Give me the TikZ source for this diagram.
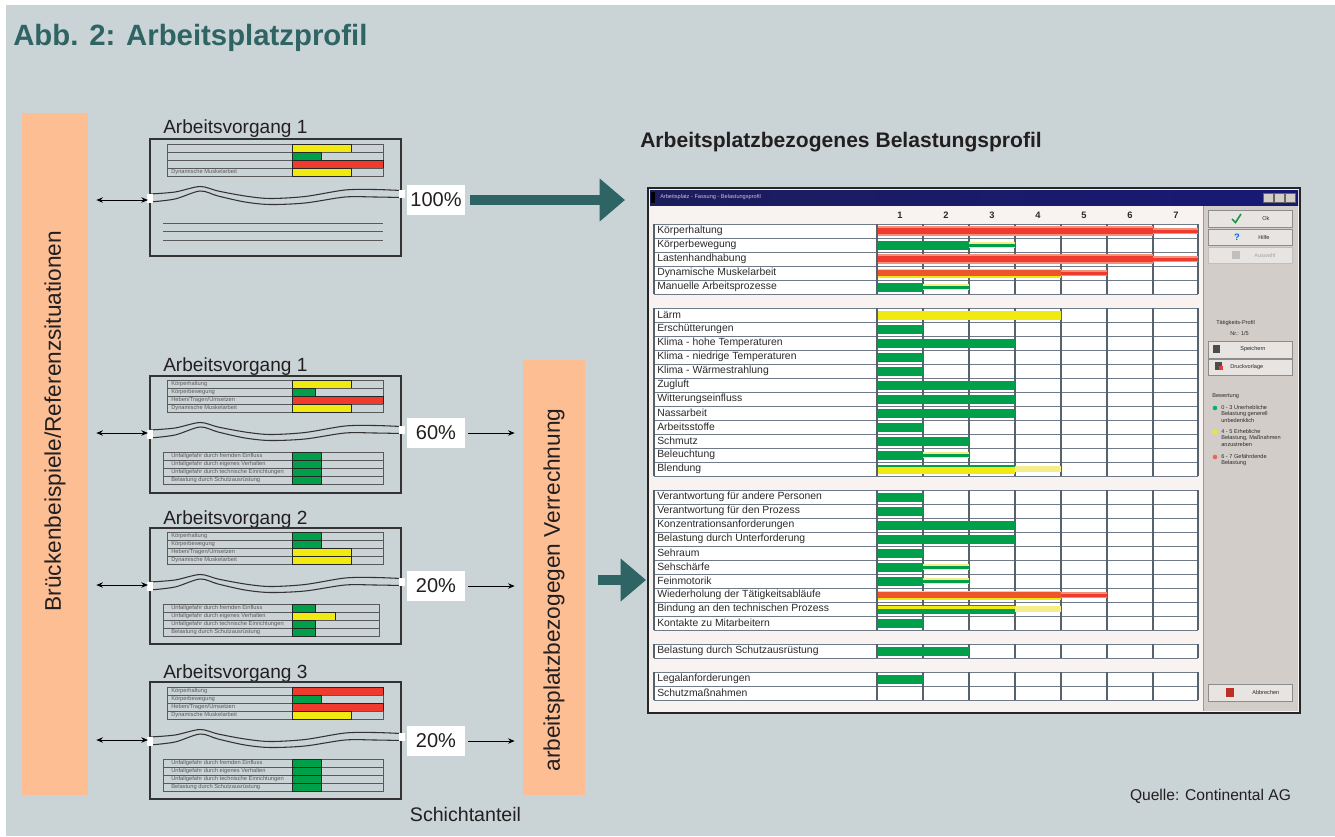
\documentclass[tikz,border=0pt]{standalone}
\usepackage{fontspec}
\setmainfont{Liberation Sans}
\usetikzlibrary{arrows.meta}
\definecolor{bg}{HTML}{CAD3D6}
\definecolor{tealA}{HTML}{2F6464}
\definecolor{obar}{HTML}{FDBE94}
\definecolor{gr}{HTML}{00A04B}
\definecolor{ye}{HTML}{F0EA10}
\definecolor{rd}{HTML}{EE3B2E}
\definecolor{lrd}{HTML}{F4907A}
\definecolor{lye}{HTML}{F3EE8A}
\definecolor{sgridc}{HTML}{6E7A88}
\definecolor{scrbg}{HTML}{F8F3F1}
\definecolor{panel}{HTML}{D3CDC9}
\definecolor{navy}{HTML}{1C1D5C}
\definecolor{txt}{HTML}{231F20}
\definecolor{stxt}{HTML}{5A5A5A}
\definecolor{gtxt}{HTML}{2A2A2A}

\tikzset{
  boxline/.style={draw=black!80, line width=0.8pt},
  tabline/.style={draw=black!65, line width=0.55pt},
  minilabel/.style={anchor=west, inner sep=0pt, text=stxt, font=\fontsize{4.3pt}{5pt}\selectfont},
  pctbox/.style={fill=white, minimum width=43.5pt, minimum height=23pt, inner sep=0pt, text=txt, font=\fontsize{15pt}{18pt}\selectfont},
  avtitle/.style={anchor=base west, inner sep=0pt, text=txt, font=\fontsize{14.3pt}{16pt}\selectfont},
  bartext/.style={rotate=90, inner sep=0pt, text=txt, font=\fontsize{17pt}{20pt}\selectfont},
  dblarrow/.style={{Stealth[length=5pt,width=4pt]}-{Stealth[length=5pt,width=4pt]}, line width=0.75pt, black},
  thinarrow/.style={-{Stealth[length=5pt,width=4pt]}, line width=0.75pt, black},
  bigarrow/.style={-{Triangle[length=19pt,width=31pt]}, line width=8pt, tealA},
  sgrid/.style={draw=sgridc, line width=0.6pt},
  svgrid/.style={draw=sgridc!80!black, line width=1.1pt},
  slabel/.style={anchor=west, inner sep=0pt, text=gtxt, font=\fontsize{7.8pt}{8pt}\selectfont},
  snum/.style={inner sep=0pt, text=gtxt, font=\bfseries\fontsize{7pt}{8pt}\selectfont},
  ptext/.style={anchor=west, inner sep=0pt, text=gtxt, font=\fontsize{4.2pt}{5pt}\selectfont},
  pbtn/.style={fill=panel!55!white, draw=black!45, line width=0.6pt},
}

% mini table row: xl, xr, ytop, label, barend, colour
\newcommand\mrow[6]{%
  \draw[tabline] (#1,#3) rectangle (#2,{#3+8});
  \draw[tabline] (292,#3) -- (292,{#3+8});
  \filldraw[#6, draw=black!85, line width=0.6pt] (292,#3) rectangle (#5,{#3+8});
  \node[minilabel] at (171,{#3+4.2}) {#4};
}
% wavy break
\newcommand\wave[1]{%
 \begin{scope}[shift={(0,#1)}]
  \fill[bg] plot[smooth] coordinates {(149,0) (175,-2) (200,-7.5) (218,-3) (245,2) (270,4.5) (305,2.5) (345,-4) (375,-4.5) (402,-3.5)}
     -- plot[smooth] coordinates {(402,3.5) (375,3) (345,3) (305,9) (270,10.5) (245,8) (218,2) (200,-3) (175,5) (149,8)} -- cycle;
  \draw[boxline] plot[smooth] coordinates {(150,0) (175,-2) (200,-7.5) (218,-3) (245,2) (270,4.5) (305,2.5) (345,-4) (375,-4.5) (401,-3.5)};
  \draw[boxline] plot[smooth] coordinates {(150,8) (175,5) (200,-3) (218,2) (245,8) (270,10.5) (305,9) (345,3) (375,3) (401,3.5)};
  \fill[white] (147,-0.5) rectangle (153,8.5);
  \fill[white] (399,-4) rectangle (405,4);
 \end{scope}}
% screenshot group grid: ytop, nrows
\newcommand\sgroup[2]{%
  \fill[white] (654,#1) rectangle (1198,{#1+14*#2});
  \foreach \k in {0,...,#2} \draw[sgrid] (654,{#1+14*\k}) -- (1198,{#1+14*\k});
  \foreach \xx in {654,877,923,969,1015,1061,1107,1153,1198} \draw[svgrid] (\xx,#1) -- (\xx,{#1+14*#2});
}
% thick bar: row top, end, colour
\newcommand\tb[3]{\fill[#3] (878,{#1+2.5}) rectangle (#2,{#1+11.5});}
% thin bar: row top, start, end, colour, halo
\newcommand\nb[5]{\fill[#5] (#2,{#1+4}) rectangle (#3,{#1+10});\fill[#4] (#2,{#1+5.5}) rectangle (#3,{#1+8.5});}

\begin{document}
\begin{tikzpicture}[x=0.75pt,y=-0.75pt]
\useasboundingbox (0,0) rectangle (1335,836);
\fill[white] (0,0) rectangle (1335,836);
\fill[bg] (6,5) rectangle (1335,836);

\node[anchor=base west, inner sep=0pt, text=tealA, font=\bfseries\fontsize{22pt}{24pt}\selectfont] (title) at (13,45) {Abb. 2: Arbeitsplatzprofil};

% orange bars
\node[fill=obar, minimum width=49.5pt, minimum height=511.5pt, inner sep=0pt] (lbar) at (55,454) {};
\node[bartext] (lbartext) at (55,421) {Brückenbeispiele/Referenzsituationen};
\node[fill=obar, minimum width=46.5pt, minimum height=326.25pt, inner sep=0pt] (mbar) at (554,577.5) {};
\node[bartext] (mbartext) at (554,590) {arbeitsplatzbezogegen Verrechnung};

% ---------- Box 1 ----------
\node[avtitle] (av1) at (163,133) {Arbeitsvorgang 1};
\draw[boxline] (150,139) rectangle (401,256);
\mrow{167}{383}{144}{}{351.5}{ye}
\mrow{167}{383}{152}{}{321.5}{gr}
\mrow{167}{383}{160}{}{383}{rd}
\mrow{167}{383}{168}{Dynamische Muskelarbeit}{351.5}{ye}
\draw[tabline] (163,223) -- (383,223);
\draw[tabline] (163,231.5) -- (383,231.5);
\draw[tabline] (163,240) -- (383,240);
\wave{194}
\coordinate (w1) at (148,200);

% ---------- Box 2 ----------
\node[avtitle] (av2) at (163,371) {Arbeitsvorgang 1};
\draw[boxline] (150,376) rectangle (401,493);
\mrow{167}{383}{380}{Körperhaltung}{351.5}{ye}
\mrow{167}{383}{388}{Körperbewegung}{315.5}{gr}
\mrow{167}{383}{396}{Heben/Tragen/Umsetzen}{383}{rd}
\mrow{167}{383}{404}{Dynamische Muskelarbeit}{351.5}{ye}
\mrow{163}{383}{452}{Unfallgefahr durch fremden Einfluss}{321}{gr}
\mrow{163}{383}{460}{Unfallgefahr durch eigenes Verhalten}{321}{gr}
\mrow{163}{383}{468}{Unfallgefahr durch technische Einrichtungen}{321}{gr}
\mrow{163}{383}{476}{Belastung durch Schutzausrüstung}{321}{gr}
\wave{430}
\coordinate (w2) at (148,433);

% ---------- Box 3 ----------
\node[avtitle] (av3) at (163,524) {Arbeitsvorgang 2};
\draw[boxline] (150,528) rectangle (401,644);
\mrow{167}{383}{532}{Körperhaltung}{321}{gr}
\mrow{167}{383}{540}{Körperbewegung}{321}{gr}
\mrow{167}{383}{548}{Heben/Tragen/Umsetzen}{351.5}{ye}
\mrow{167}{383}{556}{Dynamische Muskelarbeit}{351.5}{ye}
\mrow{163}{379}{604}{Unfallgefahr durch fremden Einfluss}{315.5}{gr}
\mrow{163}{379}{612}{Unfallgefahr durch eigenes Verhalten}{335.5}{ye}
\mrow{163}{379}{620}{Unfallgefahr durch technische Einrichtungen}{315.5}{gr}
\mrow{163}{379}{628}{Belastung durch Schutzausrüstung}{315.5}{gr}
\wave{582}
\coordinate (w3) at (148,585);

% ---------- Box 4 ----------
\node[avtitle] (av4) at (163,678) {Arbeitsvorgang 3};
\draw[boxline] (150,682) rectangle (401,799);
\mrow{167}{383}{687}{Körperhaltung}{383}{rd}
\mrow{167}{383}{695}{Körperbewegung}{321.5}{gr}
\mrow{167}{383}{703}{Heben/Tragen/Umsetzen}{383}{rd}
\mrow{167}{383}{711}{Dynamische Muskelarbeit}{351.5}{ye}
\mrow{163}{383}{759}{Unfallgefahr durch fremden Einfluss}{321}{gr}
\mrow{163}{383}{767}{Unfallgefahr durch eigenes Verhalten}{321}{gr}
\mrow{163}{383}{775}{Unfallgefahr durch technische Einrichtungen}{321}{gr}
\mrow{163}{383}{783}{Belastung durch Schutzausrüstung}{321}{gr}
\wave{737}
\coordinate (w4) at (148,740);

% double arrows
\foreach \w in {w1,w2,w3,w4} \draw[dblarrow] ([xshift=6pt]lbar.east |- \w) -- (\w);

% percentages
\node[pctbox] (p100) at (436,200) {100\%};
\node[pctbox] (p60) at (436,433) {60\%};
\node[pctbox] (p20a) at (436,586) {20\%};
\node[pctbox] (p20b) at (436,741) {20\%};
\foreach \p in {p60,p20a,p20b} \draw[thinarrow] ([xshift=2.25pt]\p.east) -- ([xshift=-6pt]mbar.west |- \p.east);

\node[inner sep=0pt, text=txt, font=\fontsize{14.7pt}{16pt}\selectfont] (schicht) at (465.5,814) {Schichtanteil};
\node[inner sep=0pt, text=txt, font=\fontsize{11.7pt}{13pt}\selectfont] (quelle) at (1210.5,796) {Quelle: Continental AG};

% big arrows
\coordinate (t1) at (625,200);
\draw[bigarrow] ([xshift=3.75pt]p100.east) -- (t1);
\coordinate (t2) at (646,580);
\draw[bigarrow] ([xshift=9.75pt]mbar.east |- t2) -- (t2);

\node[anchor=base west, inner sep=0pt, text=txt, font=\bfseries\fontsize{15.8pt}{18pt}\selectfont] (profiltitle) at (640,147) {Arbeitsplatzbezogenes Belastungsprofil};

% ---------- screenshot ----------
\fill[scrbg] (649,189) rectangle (1299,712);
\draw[line width=2.2pt, black!85] (648,188) rectangle (1300,713);
\shade[left color=navy, right color=navy!85!blue] (650,190) rectangle (1298,205);
\fill[black] (651,192) rectangle (655,203);
\node[anchor=west, inner sep=0pt, text=white!75!navy, font=\fontsize{4.2pt}{5pt}\selectfont] (wtitle) at (660,197.5) {Arbeitsplatz - Fassung - Belastungsprofil};
\foreach \bx in {1263,1274,1285} \filldraw[fill=panel, draw=black!60, line width=0.4pt] (\bx,193) rectangle ({\bx+10},202.5);
\fill[panel] (1203,206) rectangle (1298,711);
\draw[black!40, line width=0.6pt] (1203,206) -- (1203,711);

% column numbers
\foreach \n [count=\i] in {1,...,7} \node[snum] (col\i) at ({900+46*(\i-1)},215) {\n};

% groups
\sgroup{224}{5}
\sgroup{308}{12}
\sgroup{490}{10}
\sgroup{644}{1}
\sgroup{672}{2}

% bars group 1
\fill[lrd] (878,226) rectangle (1153,236); \fill[rd] (878,228) rectangle (1153,234);
\nb{224}{1153}{1198}{rd}{lrd}
\tb{238}{969}{gr} \nb{238}{969}{1015}{gr}{lye}
\fill[lrd] (878,254) rectangle (1153,264); \fill[rd] (878,256) rectangle (1153,262);
\nb{252}{1153}{1198}{rd}{lrd}
\tb{266}{1061}{ye} \fill[rd!85!ye] (878,270) rectangle (1061,276);
\nb{266}{1061}{1107}{rd}{lrd}
\tb{280}{923}{gr} \nb{280}{923}{969}{gr}{lye}
% bars group 2
\tb{308}{1061}{ye}
\tb{322}{923}{gr}
\tb{336}{1015}{gr}
\tb{350}{923}{gr}
\tb{364}{923}{gr}
\tb{378}{1015}{gr}
\tb{392}{1015}{gr}
\tb{406}{1015}{gr}
\tb{420}{923}{gr}
\tb{434}{969}{gr}
\tb{448}{923}{gr} \nb{448}{923}{969}{gr}{lye}
\tb{462}{1015}{ye} \fill[gr] (878,465) rectangle (1015,467); \nb{462}{1015}{1061}{lye}{lye}
% bars group 3
\tb{490}{923}{gr}
\tb{504}{923}{gr}
\tb{518}{1015}{gr}
\tb{532}{1015}{gr}
\tb{546}{923}{gr}
\tb{560}{923}{gr} \nb{560}{923}{969}{gr}{lye}
\tb{574}{923}{gr} \nb{574}{923}{969}{gr}{lye}
\tb{588}{1061}{ye} \fill[rd!85!ye] (878,592) rectangle (1061,598); \nb{588}{1061}{1107}{rd}{lrd}
\tb{602}{1015}{gr} \fill[ye] (878,605.5) rectangle (1015,608.5); \nb{602}{1015}{1061}{lye}{lye}
\tb{616}{923}{gr}
% group 4 and 5
\tb{644}{969}{gr}
\tb{672}{923}{gr}

% labels
\foreach \t [count=\i from 0] in {Körperhaltung, Körperbewegung, Lastenhandhabung, Dynamische Muskelarbeit, Manuelle Arbeitsprozesse}
  \node[slabel] (ga\i) at (657,{224+14*\i+7}) {\t};
\foreach \t [count=\i from 0] in {Lärm, Erschütterungen, Klima - hohe Temperaturen, Klima - niedrige Temperaturen, Klima - Wärmestrahlung, Zugluft, Witterungseinfluss, Nassarbeit, Arbeitsstoffe, Schmutz, Beleuchtung, Blendung}
  \node[slabel] (gb\i) at (657,{308+14*\i+7}) {\t};
\foreach \t [count=\i from 0] in {Verantwortung für andere Personen, Verantwortung für den Prozess, Konzentrationsanforderungen, Belastung durch Unterforderung, Sehraum, Sehschärfe, Feinmotorik, Wiederholung der Tätigkeitsabläufe, Bindung an den technischen Prozess, Kontakte zu Mitarbeitern}
  \node[slabel] (gc\i) at (657,{490+14*\i+7}) {\t};
\node[slabel] (gd0) at (657,651) {Belastung durch Schutzausrüstung};
\node[slabel] (ge0) at (657,679) {Legalanforderungen};
\node[slabel] (ge1) at (657,693) {Schutzmaßnahmen};

% right panel
\filldraw[pbtn] (1208,210) rectangle (1292,227);
\draw[tealA!70!green, line width=1.2pt] (1232,219) -- (1235.5,222.5) -- (1241,214);
\node[ptext] (bok) at (1262,218.5) {Ok};
\filldraw[pbtn] (1208,229) rectangle (1292,245);
\node[inner sep=0pt, text=blue!60!cyan, font=\bfseries\fontsize{7pt}{8pt}\selectfont] (bq) at (1237,237) {?};
\node[ptext] (bhelp) at (1258,237) {Hilfe};
\filldraw[pbtn, draw=black!25] (1208,247) rectangle (1292,263);
\fill[black!25] (1232,251) rectangle (1240,259);
\node[ptext, text=black!35] (bsel) at (1254,255) {Auswahl};
\node[ptext] (tprof) at (1216,323) {Tätigkeits-Profil};
\node[ptext] (tnr) at (1230,333) {Nr.: 1/5};
\filldraw[pbtn] (1208,341) rectangle (1292,358);
\fill[black!70] (1213,345) rectangle (1220,353);
\node[ptext] (bsave) at (1240,349.5) {Speichern};
\filldraw[pbtn] (1208,359) rectangle (1292,375);
\fill[black!70] (1215,362) rectangle (1222,370); \fill[rd] (1219,366) rectangle (1223,370);
\node[ptext] (bprint) at (1230,367) {Druckvorlage};
\node[ptext] (bew) at (1212,396) {Bewertung};
\fill[gr!80!cyan] (1215,408) circle (2.3);
\node[ptext, align=left, anchor=north west] (lg1) at (1221,405) {0 - 3 Unerhebliche\\Belastung generell\\unbedenklich};
\fill[ye] (1215,432) circle (2.3);
\node[ptext, align=left, anchor=north west] (lg2) at (1221,429) {4 - 5 Erhebliche\\Belastung, Maßnahmen\\anzustreben};
\fill[rd!80!white] (1215,457) circle (2.3);
\node[ptext, align=left, anchor=north west] (lg3) at (1221,454) {6 - 7 Gefährdende\\Belastung};
\filldraw[pbtn] (1208,684) rectangle (1292,701);
\fill[rd!80!black] (1226,688) rectangle (1234,697);
\node[ptext] (bcancel) at (1252,692.5) {Abbrechen};
\end{tikzpicture}
\end{document}
